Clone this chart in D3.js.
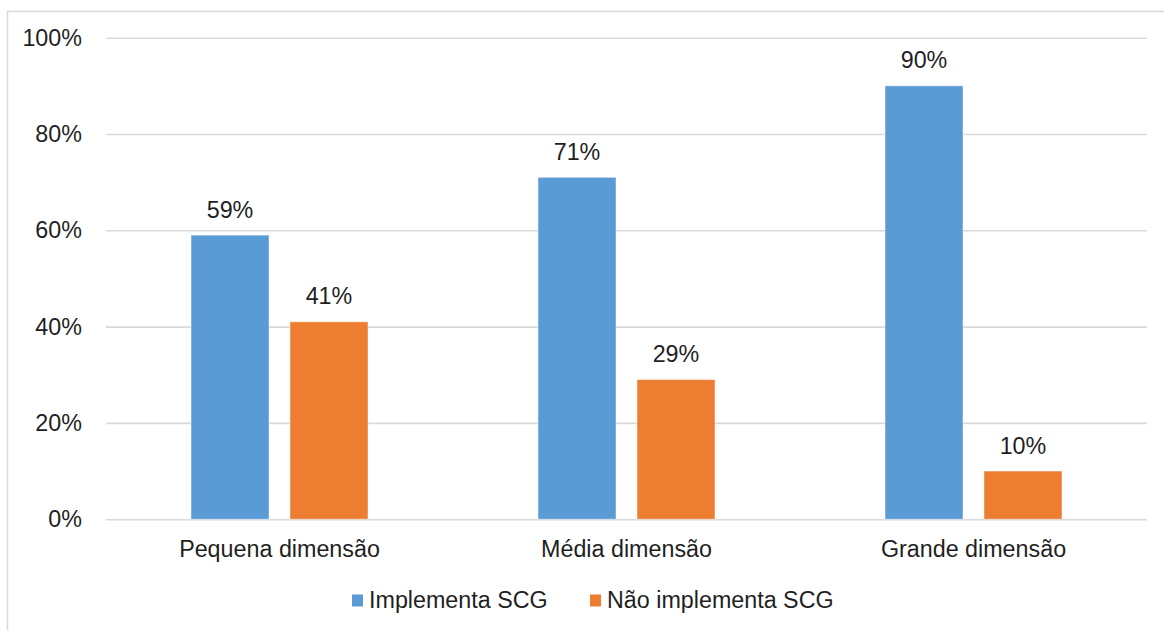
<!DOCTYPE html>
<html>
<head>
<meta charset="utf-8">
<script src="https://cdn.jsdelivr.net/npm/d3@7"></script>
<style>
  html, body { margin: 0; padding: 0; background: #fff; }
  svg { display: block; }
  text { font-family: "Liberation Sans", Arial, sans-serif; fill: #1f1f1f; }
</style>
</head>
<body>
<svg id="chart" width="1164" height="630"></svg>
<script>
// Company size categories
const categories = ["Pequena dimensão", "Média dimensão", "Grande dimensão"];
// Series names
const seriesNames = ["Implementa SCG", "Não implementa SCG"];
// Percentages per category, one array per series
const implementa = [59, 71, 90];
const naoImplementa = [41, 29, 10];
// Y-axis tick values (percent)
const yTicks = [0, 20, 40, 60, 80, 100];

const colors = ["#5B9BD5", "#ED7D31"];
const seriesValues = [implementa, naoImplementa];

const W = 1164, H = 630;
const plot = { left: 106, right: 1147, top: 37.7, bottom: 519.2 };
const fontSize = 23.3;

const svg = d3.select("#chart");
svg.append("rect").attr("width", W).attr("height", H).attr("fill", "#fff");

// Chart frame (top and left edges visible)
svg.append("path")
  .attr("d", `M7.5,${H} V11.5 H${W}`)
  .attr("fill", "none")
  .attr("stroke", "#d9d9d9")
  .attr("stroke-width", 1.5);

const y = d3.scaleLinear().domain([0, 100]).range([plot.bottom, plot.top]);

const x0 = d3.scaleBand()
  .domain(categories)
  .range([plot.left, plot.right])
  .paddingInner(0.49)
  .paddingOuter(0.245);

const x1 = d3.scaleBand()
  .domain(seriesNames)
  .range([0, x0.bandwidth()])
  .paddingInner(0.212)
  .paddingOuter(0);

// Gridlines + y tick labels
const yAxis = d3.axisLeft(y)
  .tickValues(yTicks)
  .tickSize(-(plot.right - plot.left))
  .tickPadding(24)
  .tickFormat(d => d + "%");

const gy = svg.append("g")
  .attr("transform", `translate(${plot.left},0)`)
  .call(yAxis);
gy.select(".domain").remove();
gy.selectAll(".tick line").attr("stroke", "#d9d9d9").attr("stroke-width", 1.6);
gy.selectAll(".tick text")
  .attr("font-size", fontSize)
  .attr("fill", "#1f1f1f")
  .attr("font-family", "Liberation Sans, Arial, sans-serif");

// Bars and value labels
const groups = svg.append("g").selectAll("g")
  .data(categories)
  .join("g")
  .attr("transform", d => `translate(${x0(d)},0)`);

groups.each(function (cat, ci) {
  const g = d3.select(this);
  seriesNames.forEach((s, si) => {
    const v = seriesValues[si][ci];
    g.append("rect")
      .attr("x", x1(s))
      .attr("y", y(v))
      .attr("width", x1.bandwidth())
      .attr("height", y(0) - y(v))
      .attr("fill", colors[si])
      .attr("stroke", "rgba(255,255,255,0.45)")
      .attr("stroke-width", 1);
    g.append("text")
      .attr("x", x1(s) + x1.bandwidth() / 2)
      .attr("y", y(v) - 17.5)
      .attr("text-anchor", "middle")
      .attr("font-size", fontSize)
      .text(v + "%");
  });
});

// Category labels
const xAxis = d3.axisBottom(x0).tickSize(0).tickPadding(0);
const gx = svg.append("g")
  .attr("transform", `translate(0,${plot.bottom})`)
  .call(xAxis);
gx.select(".domain").remove();
gx.selectAll(".tick text")
  .attr("font-size", fontSize)
  .attr("fill", "#1f1f1f")
  .attr("font-family", "Liberation Sans, Arial, sans-serif")
  .attr("dy", null)
  .attr("y", 37.5);

// Legend
const legend = svg.append("g");
const legendX = [352, 590];
seriesNames.forEach((s, i) => {
  const lg = legend.append("g").attr("transform", `translate(${legendX[i]},0)`);
  lg.append("rect")
    .attr("x", 0).attr("y", 594.5)
    .attr("width", 11).attr("height", 12)
    .attr("fill", colors[i]);
  lg.append("text")
    .attr("x", 17).attr("y", 607.7)
    .attr("font-size", fontSize)
    .text(s);
});
</script>
</body>
</html>
